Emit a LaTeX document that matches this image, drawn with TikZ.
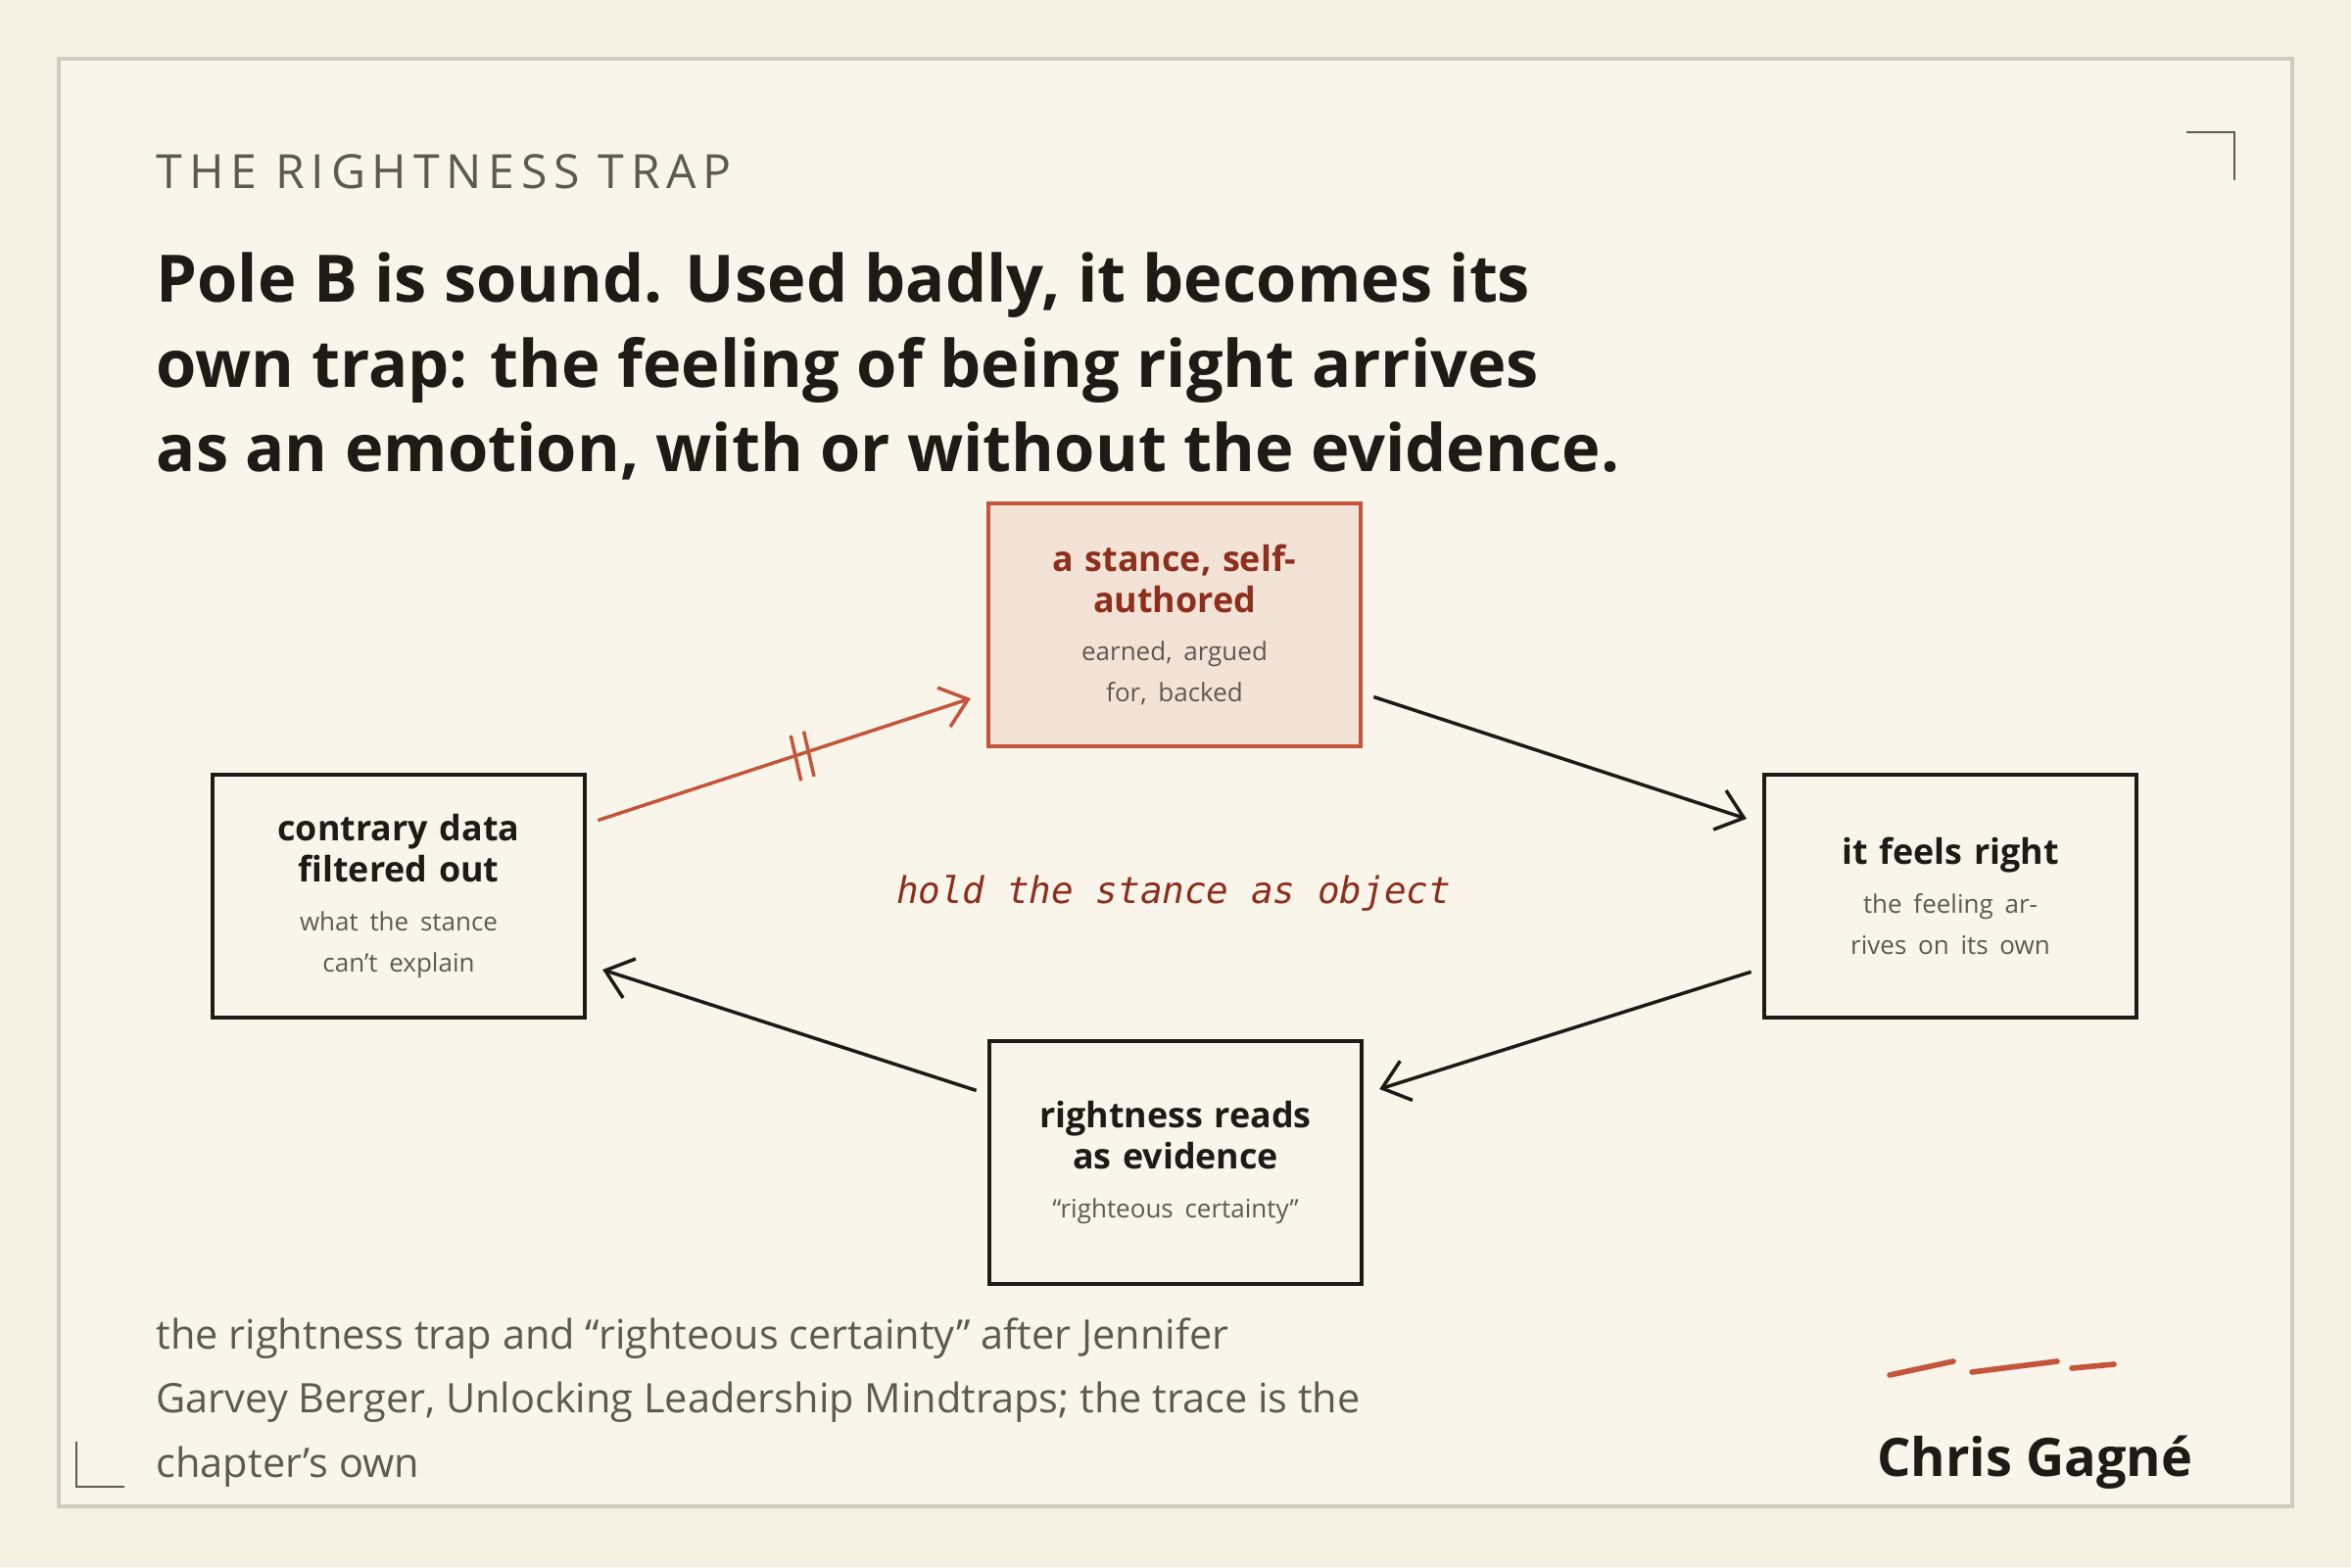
\documentclass[tikz,border=0pt]{standalone}
\usepackage{fontspec}
\setmainfont{Open Sans}
\newfontfamily\handfont{DejaVu Sans Mono}
\usetikzlibrary{arrows.meta,decorations.markings}
\definecolor{pagebg}{HTML}{F6F0E3}
\definecolor{cardbg}{HTML}{FAF5EA}
\definecolor{framegray}{HTML}{CFCBBF}
\definecolor{inkdark}{HTML}{1E1B17}
\definecolor{inkgray}{HTML}{5E5952}
\definecolor{trapred}{HTML}{C4553B}
\definecolor{trapdark}{HTML}{8E2F1E}
\definecolor{trapfill}{HTML}{F3E2D6}
\newcommand{\boxlabel}[2]{\hyphenpenalty=10000\relax{\fontsize{10.2}{12.5}\selectfont\bfseries #1}\\[2pt]{\fontsize{7.4}{9.4}\selectfont\color{inkgray}#2}}

\begin{document}
\begin{tikzpicture}[x=1cm,y=1cm]
    \tikzstyle{stage} = [draw=inkdark, line width=1.1pt, minimum width=3.8cm, minimum height=2.48cm, text width=3.4cm, align=center, text=inkdark, inner sep=0pt]
    \tikzstyle{flow} = [draw=inkdark, line width=1pt, -{Straight Barb[length=2.6mm,width=4.2mm,line width=1pt]}, shorten <=0.12cm, shorten >=0.17cm]

    % page and card
    \fill[pagebg] (0,0) rectangle (24,16);
    \useasboundingbox (0,0) rectangle (24,16);
    \draw[framegray, fill=cardbg, line width=1pt] (0.60,0.62) rectangle (23.40,15.40);
    \draw[inkgray, line width=0.8pt] (22.32,14.65) -- (22.81,14.65) -- (22.81,14.16);
    \draw[inkgray, line width=0.8pt] (0.78,1.28) -- (0.78,0.82) -- (1.27,0.82);

    % heading
    \node[anchor=base west, inner sep=0pt, text=inkgray, font=\fontsize{13.7}{16}\selectfont\addfontfeature{LetterSpace=14}] (kicker) at (1.59,14.07) {THE RIGHTNESS TRAP};
    \node[anchor=base west, inner sep=0pt, text=inkdark, font=\fontsize{19}{24}\selectfont\bfseries] (head1) at (1.59,12.91) {Pole B is sound. Used badly, it becomes its};
    \node[anchor=base west, inner sep=0pt, text=inkdark, font=\fontsize{19}{24}\selectfont\bfseries] (head2) at (1.59,12.04) {own trap: the feeling of being right arrives};
    \node[anchor=base west, inner sep=0pt, text=inkdark, font=\fontsize{19}{24}\selectfont\bfseries] (head3) at (1.59,11.18) {as an emotion, with or without the evidence.};

    % stages
    \node[stage, draw=trapred, fill=trapfill, text=trapdark] (stance) at (11.99,9.62) {\boxlabel{a stance, self-\\authored}{earned, argued for, backed}};
    \node[stage] (feels) at (19.91,6.85) {\boxlabel{it feels right}{the feeling arrives on its own}};
    \node[stage] (reads) at (12.00,4.13) {\boxlabel{rightness reads as evidence}{``righteous certainty''}};
    \node[stage] (filter) at (4.07,6.85) {\boxlabel{contrary data filtered out}{what the stance can't explain}};

    % loop
    \draw[flow, draw=trapred, -{Straight Barb[length=2.6mm,width=4.2mm,line width=1pt,color=trapred]},
        postaction={decorate, decoration={markings, mark=at position 0.53 with {
            \draw[-, trapred, line width=1pt] (-0.07,-0.38) -- (0.0,0.38);
            \draw[-, trapred, line width=1pt] (0.07,-0.38) -- (0.14,0.38);}}}]
        (filter.21) -- (stance.200);
    \draw[flow] (stance.-20) -- (feels.159);
    \draw[flow] (feels.201) -- (reads.20);
    \draw[flow] (reads.160) -- (filter.-20);

    \node[text=trapdark, font=\handfont\itshape\fontsize{10.7}{13}\selectfont] (centre) at (11.98,6.88) {hold the stance as object};

    % footer
    \node[anchor=base west, inner sep=0pt, text=inkgray, font=\fontsize{11.8}{16}\selectfont] (foot1) at (1.59,2.22) {the rightness trap and ``righteous certainty'' after Jennifer};
    \node[anchor=base west, inner sep=0pt, text=inkgray, font=\fontsize{11.8}{16}\selectfont] (foot2) at (1.59,1.57) {Garvey Berger, Unlocking Leadership Mindtraps; the trace is the};
    \node[anchor=base west, inner sep=0pt, text=inkgray, font=\fontsize{11.8}{16}\selectfont] (foot3) at (1.59,0.91) {chapter's own};

    \draw[trapred, line width=1.6pt, line cap=round] (19.29,1.96) -- (19.94,2.10);
    \draw[trapred, line width=1.6pt, line cap=round] (20.13,1.99) -- (21.00,2.10);
    \draw[trapred, line width=1.6pt, line cap=round] (21.15,2.03) -- (21.58,2.07);
    \node[anchor=base east, inner sep=0pt, text=inkdark, font=\fontsize{15.4}{18}\selectfont\bfseries] (sign) at (22.39,0.92) {Chris Gagné};
\end{tikzpicture}
\end{document}
